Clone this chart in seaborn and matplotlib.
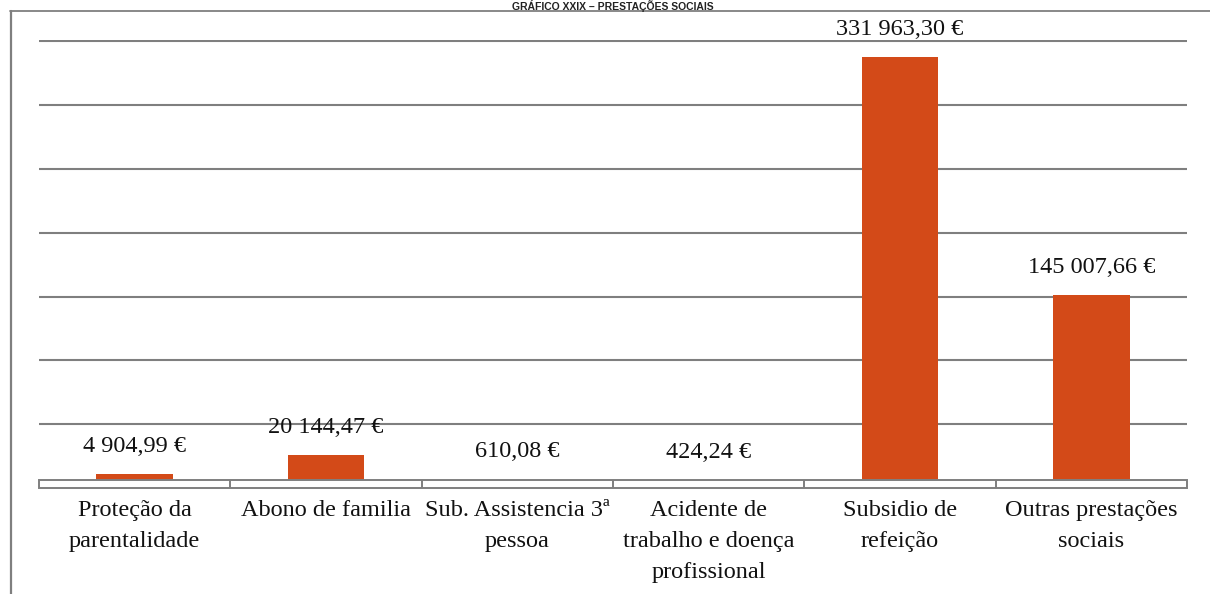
import numpy as np
import pandas as pd
import matplotlib
matplotlib.use("Agg")
import matplotlib.pyplot as plt
from matplotlib.patches import Rectangle
from matplotlib.lines import Line2D
import seaborn as sns

# Prestações sociais (euros)
categorias = [
    "Proteção da\nparentalidade",
    "Abono de familia",
    "Sub. Assistencia 3ª\npessoa",
    "Acidente de\ntrabalho e doença\nprofissional",
    "Subsidio de\nrefeição",
    "Outras prestações\nsociais",
]
valores = [4904.99, 20144.47, 610.08, 424.24, 331963.30, 145007.66]

titulo = "GRÁFICO XXIX – PRESTAÇÕES SOCIAIS"


def euros(v):
    s = f"{v:,.2f}".replace(",", " ").replace(".", ",")
    return s + " €"


df = pd.DataFrame({"categoria": categorias, "valor": valores})

W, H = 1210, 594
fig = plt.figure(figsize=(W / 100, H / 100), dpi=100)
fig.patch.set_facecolor("white")

# plot area in pixel geometry
left, right, top, bottom = 39, 1187, 40, 488
ax = fig.add_axes([left / W, 1 - bottom / H, (right - left) / W, (bottom - top) / H])

sns.set_style("white")
BAR = "#D34A18"
GRID = "#7f7f7f"

sns.barplot(data=df, x="categoria", y="valor", color=BAR, saturation=1,
            width=0.4, linewidth=0, ax=ax, zorder=3)

# value scale: axis band sits just below the zero line
ymin, ymax = -5880, 345200
step = 50000
ax.set_ylim(ymin, ymax)
ax.set_xlim(-0.5, len(categorias) - 0.5)
ax.set_yticks([ymin + step * k for k in range(1, 8)])
ax.yaxis.grid(True, color=GRID, linewidth=1.5)
ax.set_axisbelow(True)
ax.tick_params(axis="y", length=0, labelleft=False)
for s in ax.spines.values():
    s.set_visible(False)
ax.set_xlabel("")
ax.set_ylabel("")

# category axis band with dividers
ax.add_patch(Rectangle((-0.5, ymin), len(categorias), -ymin, facecolor="white",
                       edgecolor=GRID, linewidth=1.4, zorder=4, clip_on=False))
ax.vlines(np.arange(0.5, len(categorias) - 0.5, 1.0), ymin, 0, color=GRID,
          linewidth=1.4, zorder=4)

serif = "Liberation Serif"
ax.set_xticks(range(len(categorias)))
ax.set_xticklabels(categorias, fontfamily=serif, fontsize=17.5, color="#111111",
                   linespacing=1.62)
ax.tick_params(axis="x", length=0, pad=8.5)

for i, v in enumerate(valores):
    ax.annotate(euros(v), (i, v), xytext=(0, 20), textcoords="offset points",
                ha="center", va="center", fontfamily=serif, fontsize=17.5,
                color="#111111", zorder=5)

# chart frame and title (top edge of the page)
fig.add_artist(Line2D([10.5 / W, 10.5 / W], [0, 1 - 11 / H], transform=fig.transFigure,
                      color=GRID, linewidth=1.6))
fig.add_artist(Line2D([10 / W, 1], [1 - 11 / H, 1 - 11 / H], transform=fig.transFigure,
                      color=GRID, linewidth=1.3))
fig.text(613 / W, 1 - 9.5 / H, titulo, ha="center", va="baseline",
         fontfamily="Liberation Sans", fontweight="bold", fontsize=7.5, color="#222222")

fig.savefig("out.png", dpi=100, facecolor="white")
